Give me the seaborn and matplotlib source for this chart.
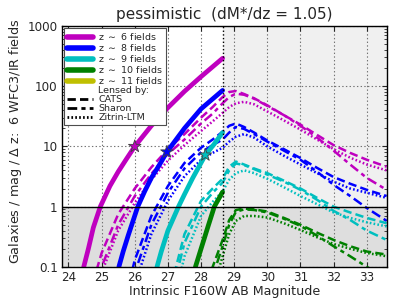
import numpy as np
import pandas as pd
import matplotlib
matplotlib.use("Agg")
import matplotlib.pyplot as plt
from matplotlib.lines import Line2D
from matplotlib.ticker import FuncFormatter, NullFormatter
import seaborn as sns

nan = np.nan

# intrinsic (unlensed) counts, 6 WFC3/IR fields
z6_mag = [24.46, 24.6, 24.75, 24.96, 25.25, 25.5, 25.75, 26.0, 26.5, 27.0, 27.5, 28.0, 28.65]
z6_n = [0.1, 0.2, 0.45, 1.0, 2.2, 3.8, 6.2, 10, 22, 44, 82, 144, 290]
z8_mag = [25.52, 25.65, 25.8, 26.09, 26.3, 26.5, 26.75, 26.97, 27.5, 28.0, 28.65]
z8_n = [0.1, 0.18, 0.33, 1.0, 1.8, 3.0, 5.0, 8.1, 20, 42, 85]
z9_mag = [26.67, 26.8, 27.0, 27.32, 27.5, 27.75, 28.13, 28.4, 28.65]
z9_n = [0.1, 0.18, 0.4, 1.0, 1.6, 3.0, 7.2, 11, 17]
z10_mag = [27.83, 28.0, 28.2, 28.4, 28.65]
z10_n = [0.1, 0.2, 0.45, 1.0, 1.75]

# lensed counts on a shared magnitude grid
lens_mag = [24.5, 25.0, 25.5, 26.0, 26.5, 27.0, 27.5, 28.0, 28.35, 28.65, 28.85,
            29.05, 29.3, 29.6, 30.0, 30.5, 31.0, 31.5, 32.0, 32.5, 33.0, 33.6]
z6_cats = [0.02, 0.17, 0.75, 2.0, 4.5, 9.0, 16, 30, 45, 66, 80,
           83, 74, 63, 48, 33, 23, 15.5, 10.5, 7.8, 6.0, 4.6]
z6_sharon = [0.01, 0.1, 0.5, 1.5, 3.5, 7.5, 13, 24, 35, 52, 66,
             75, 72, 62, 47, 33, 22, 14, 8.5, 5.0, 3.0, 1.9]
z6_zitrin = [0.005, 0.08, 0.4, 1.15, 2.8, 5.8, 10.5, 18, 26, 36, 45,
             52, 55, 50, 38, 27, 19, 13, 9, 6.5, 5.0, 4.0]
z8_cats = [nan, nan, 0.01, 0.13, 0.7, 2.2, 5.3, 9.5, 13, 17.5, 22,
           24, 21, 17, 12.5, 9, 6.4, 4.4, 3.1, 2.4, 1.9, 1.5]
z8_sharon = [nan, nan, 0.005, 0.08, 0.5, 1.7, 4.3, 8, 10.5, 13, 17,
             21, 19.5, 16, 12, 8.5, 6.0, 3.8, 2.3, 1.5, 0.95, 0.58]
z8_zitrin = [nan, nan, 0.003, 0.05, 0.35, 1.25, 3.2, 6, 7.8, 9.5, 12,
             14.5, 16, 14, 10, 7, 5, 3.6, 2.6, 2.0, 1.7, 1.4]
z9_cats = [nan, nan, nan, nan, nan, 0.03, 0.35, 1.25, 2.0, 2.9, 4.6,
           5.6, 5.0, 4.3, 3.6, 2.7, 2.0, 1.4, 1.0, 0.8, 0.65, 0.53]
z9_sharon = [nan, nan, nan, nan, nan, 0.02, 0.25, 1.0, 1.7, 2.5, 4.0,
             5.2, 4.9, 4.2, 3.4, 2.6, 1.9, 1.3, 0.85, 0.6, 0.4, 0.28]
z9_zitrin = [nan, nan, nan, nan, nan, 0.01, 0.15, 0.7, 1.2, 1.8, 2.8,
             3.6, 4.0, 3.6, 2.9, 2.1, 1.5, 1.1, 0.8, 0.65, 0.55, 0.47]
z10_cats = [nan, nan, nan, nan, nan, nan, nan, 0.02, 0.1, 0.28, 0.6,
            0.88, 0.93, 0.9, 0.83, 0.65, 0.5, 0.37, 0.28, 0.22, 0.18, 0.16]
z10_sharon = [nan, nan, nan, nan, nan, nan, nan, 0.01, 0.07, 0.22, 0.5,
              0.82, 0.9, 0.88, 0.8, 0.63, 0.48, 0.33, 0.22, 0.15, 0.1, 0.065]
z10_zitrin = [nan, nan, nan, nan, nan, nan, nan, 0.005, 0.04, 0.15, 0.35,
              0.58, 0.7, 0.7, 0.66, 0.53, 0.41, 0.31, 0.24, 0.2, 0.17, 0.15]

# stars marking the intrinsic curves
star_mag = [26.0, 26.97, 28.13]
star_n = [10, 8.1, 7.2]

mag_limit = 28.65
labels = ["z $\\sim$ 6 fields", "z $\\sim$ 8 fields", "z $\\sim$ 9 fields",
          "z $\\sim$ 10 fields", "z $\\sim$ 11 fields"]
colors = ["m", "b", "c", "g", "y"]
dash_styles = {"CATS": (6, 3), "Sharon": (7, 3, 3, 3), "Zitrin-LTM": (1.2, 1.6)}

sns.set_style("ticks")
plt.rcParams["font.family"] = ["DejaVu Sans"]
plt.rcParams["lines.scale_dashes"] = False

fig = plt.figure(figsize=(4.07, 3.05), dpi=100)
ax = fig.add_axes([0.152, 0.125, 0.798, 0.79])

ax.axvspan(mag_limit, 33.6, color="#f0f0f0", zorder=0, lw=0)
ax.axhspan(0.1, 1, color="#dedede", zorder=0.1, lw=0)

lensed = [
    (z6_cats, z6_sharon, z6_zitrin),
    (z8_cats, z8_sharon, z8_zitrin),
    (z9_cats, z9_sharon, z9_zitrin),
    (z10_cats, z10_sharon, z10_zitrin),
]
for col, curves in zip(colors, lensed):
    for (name, dsh), vals in zip(dash_styles.items(), curves):
        df = pd.DataFrame({"mag": lens_mag, "n": np.array(vals, dtype=float)}).dropna()
        sns.lineplot(data=df, x="mag", y="n", ax=ax, color=col, lw=1.8,
                     sort=False, legend=False)
        ax.lines[-1].set_dashes(dsh)

intrinsic = [(z6_mag, z6_n), (z8_mag, z8_n), (z9_mag, z9_n), (z10_mag, z10_n)]
for col, (m, n) in zip(colors, intrinsic):
    sns.lineplot(x=m, y=n, ax=ax, color=col, lw=3.4, sort=False, legend=False)

sns.scatterplot(x=star_mag, y=star_n, hue=[0, 1, 2], palette=["m", "b", "c"],
                marker="*", s=90, edgecolor="0.25", linewidth=0.6, ax=ax,
                legend=False, zorder=5)

ax.axvline(mag_limit, color="k", ls=":", lw=1.0, zorder=3)
ax.axhline(1, color="k", lw=1.0, zorder=3)

ax.set_yscale("log")
ax.set_xlim(23.8, 33.6)
ax.set_ylim(0.1, 1000)
ax.set_xticks(range(24, 34))
ax.yaxis.set_major_formatter(FuncFormatter(lambda v, p: f"{v:g}"))
ax.yaxis.set_minor_formatter(NullFormatter())
ax.grid(True, which="major", ls=":", color="0.45", lw=0.8)
ax.tick_params(direction="in", top=True, right=True, labelsize=8.6, pad=3)
ax.tick_params(which="minor", direction="in", right=True, length=2)
for sp in ax.spines.values():
    sp.set_linewidth(1.0)
    sp.set_color("k")

ax.set_title("pessimistic  (dM*/dz = 1.05)", fontsize=11, pad=5)
ax.set_xlabel("Intrinsic F160W AB Magnitude", fontsize=9.1, labelpad=1)
ax.set_ylabel("Galaxies / mag / $\\Delta$ z:  6 WFC3/IR fields", fontsize=9.2)
ax.yaxis.set_label_coords(-0.118, 0.52)

handles = [Line2D([], [], color=c, lw=4) for c in colors]
handles.append(Line2D([], [], linestyle="none"))
for name, dsh in dash_styles.items():
    h = Line2D([], [], color="k", lw=2)
    h.set_dashes(dsh)
    handles.append(h)
leg_labels = labels + ["Lensed by:"] + list(dash_styles.keys())
leg = ax.legend(handles, leg_labels, loc="upper left", fontsize=6.8, frameon=True,
                fancybox=False, edgecolor="0.3", framealpha=1, handlelength=2.7,
                labelspacing=0.0, borderpad=0.3, handletextpad=0.6,
                borderaxespad=0.25)
leg.get_frame().set_linewidth(0.8)

fig.savefig("out.png", dpi=100)
